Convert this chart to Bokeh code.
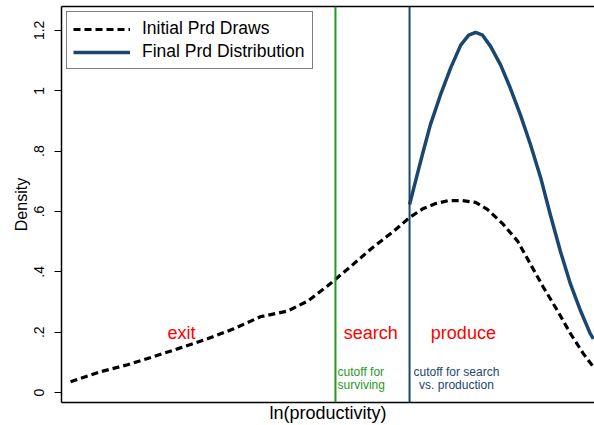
from bokeh.plotting import figure
from bokeh.models import (ColumnDataSource, Span, Label, Legend, LegendItem,
                          FixedTicker, LinearAxis, Range1d)
from bokeh.embed import file_html
from bokeh.resources import INLINE

# ---- data ----
init_x = [0.17, 0.73, 1.24, 1.73, 2.23, 2.74, 3.23, 3.73, 4.24, 4.62, 4.99, 5.37,
          5.80, 6.23, 6.53, 6.79, 7.02, 7.26, 7.52, 7.77, 7.99, 8.29, 8.56, 8.80,
          9.04, 9.31, 9.55, 9.79, 9.96]
init_d = [0.036, 0.069, 0.092, 0.119, 0.148, 0.178, 0.211, 0.251, 0.270, 0.303,
          0.353, 0.409, 0.475, 0.534, 0.580, 0.610, 0.626, 0.636, 0.636, 0.630,
          0.607, 0.557, 0.501, 0.425, 0.349, 0.270, 0.195, 0.129, 0.089]
final_x = [6.53, 6.64, 6.77, 6.92, 7.11, 7.30, 7.49, 7.64, 7.77, 7.90, 8.05, 8.24,
           8.42, 8.61, 8.80, 8.99, 9.17, 9.36, 9.55, 9.74, 9.92, 9.98]
final_d = [0.623, 0.699, 0.788, 0.887, 0.986, 1.075, 1.151, 1.184, 1.193, 1.184,
           1.147, 1.085, 1.009, 0.920, 0.821, 0.712, 0.590, 0.468, 0.359, 0.270,
           0.195, 0.178]
cutoff_survive = 5.14
cutoff_produce = 6.53
y_ticks = [0, 0.2, 0.4, 0.6, 0.8, 1, 1.2]
y_tick_labels = ["0", ".2", ".4", ".6", ".8", "1", "1.2"]

FONT = "Liberation Sans"
NAVY = "#1a476f"
GREEN = "#1f9a1f"
RED = "#ff0000"

p = figure(width=594, height=425, output_backend="svg", toolbar_location=None,
           x_range=Range1d(0, 10), y_range=Range1d(-0.033, 1.2791),
           x_axis_location=None, y_axis_location=None,
           min_border_left=61, min_border_right=0, min_border_top=6,
           min_border_bottom=21)
p.outline_line_color = None
p.grid.visible = False
p.background_fill_color = "white"
p.border_fill_color = "white"

# left axis
yax = LinearAxis(ticker=FixedTicker(ticks=y_ticks),
                 major_label_overrides={t: l for t, l in zip(y_ticks, y_tick_labels)},
                 axis_label="Density")
yax.major_label_orientation = "vertical"
yax.major_label_text_font = FONT
yax.major_label_text_font_size = "14px"
yax.major_label_text_color = "black"
yax.axis_label_text_font = FONT
yax.axis_label_text_font_size = "16px"
yax.axis_label_text_font_style = "normal"
yax.axis_label_text_color = "black"
yax.axis_label_standoff = 2
yax.major_label_standoff = 10
yax.major_tick_out = 7
yax.major_tick_in = 0
yax.minor_tick_out = 0
yax.minor_tick_in = 0
yax.axis_line_color = "black"
yax.axis_line_width = 1.5
yax.major_tick_line_color = "black"
p.add_layout(yax, "left")

# bottom axis (label only) and top line of the frame
xax = LinearAxis(ticker=FixedTicker(ticks=[]), axis_label="ln(productivity)")
xax.axis_label_text_font = FONT
xax.axis_label_text_font_size = "18px"
xax.axis_label_text_font_style = "normal"
xax.axis_label_text_color = "black"
xax.axis_label_standoff = 0
xax.major_label_text_font_size = "0px"
xax.major_label_standoff = 0
xax.major_tick_out = 0
xax.major_tick_in = 0
xax.minor_tick_out = 0
xax.minor_tick_in = 0
xax.axis_line_color = "black"
xax.axis_line_width = 1.5
p.add_layout(xax, "below")

tax = LinearAxis(ticker=FixedTicker(ticks=[]))
tax.major_label_text_font_size = "0px"
tax.major_label_standoff = 0
tax.major_tick_out = 0
tax.major_tick_in = 0
tax.minor_tick_out = 0
tax.minor_tick_in = 0
tax.axis_line_color = "black"
tax.axis_line_width = 1.5
p.add_layout(tax, "above")

src_i = ColumnDataSource(dict(x=init_x, y=init_d))
src_f = ColumnDataSource(dict(x=final_x, y=final_d))

p.add_layout(Span(location=cutoff_survive, dimension="height", line_color=GREEN, line_width=2))
p.add_layout(Span(location=cutoff_produce, dimension="height", line_color=NAVY, line_width=2))

r_i = p.line("x", "y", source=src_i, line_color="black", line_width=3.2,
             line_dash="7 4", line_join="round")
r_f = p.line("x", "y", source=src_f, line_color=NAVY, line_width=3.5,
             line_join="round")

legend = Legend(items=[LegendItem(label="Initial Prd Draws", renderers=[r_i]),
                       LegendItem(label="Final Prd Distribution", renderers=[r_f])],
                location="top_left")
legend.margin = 5
legend.padding = 6
legend.spacing = 2
legend.glyph_width = 57
legend.glyph_height = 18
legend.label_height = 18
legend.label_width = 164
legend.label_standoff = 12
legend.label_text_font = FONT
legend.label_text_font_size = "17.5px"
legend.label_text_color = "black"
legend.border_line_color = "black"
legend.border_line_width = 1
legend.background_fill_color = "white"
legend.background_fill_alpha = 1
p.add_layout(legend)

# region labels
def add_label(x, y, text, color, size, align="center"):
    p.add_layout(Label(x=x, y=y, text=text, text_color=color,
                       text_font=FONT, text_font_size=size,
                       text_align=align, text_baseline="middle"))

add_label(2.25, 0.198, "exit", RED, "18px")
add_label(5.80, 0.198, "search", RED, "18px")
add_label(7.54, 0.198, "produce", RED, "18px")
add_label(cutoff_survive + 0.04, 0.069, "cutoff for", GREEN, "12px", "left")
add_label(cutoff_survive + 0.04, 0.026, "surviving", GREEN, "12px", "left")
add_label(7.41, 0.069, "cutoff for search", NAVY, "12px")
add_label(7.41, 0.026, "vs. production", NAVY, "12px")

open("out.html", "w").write(file_html(p, INLINE))
